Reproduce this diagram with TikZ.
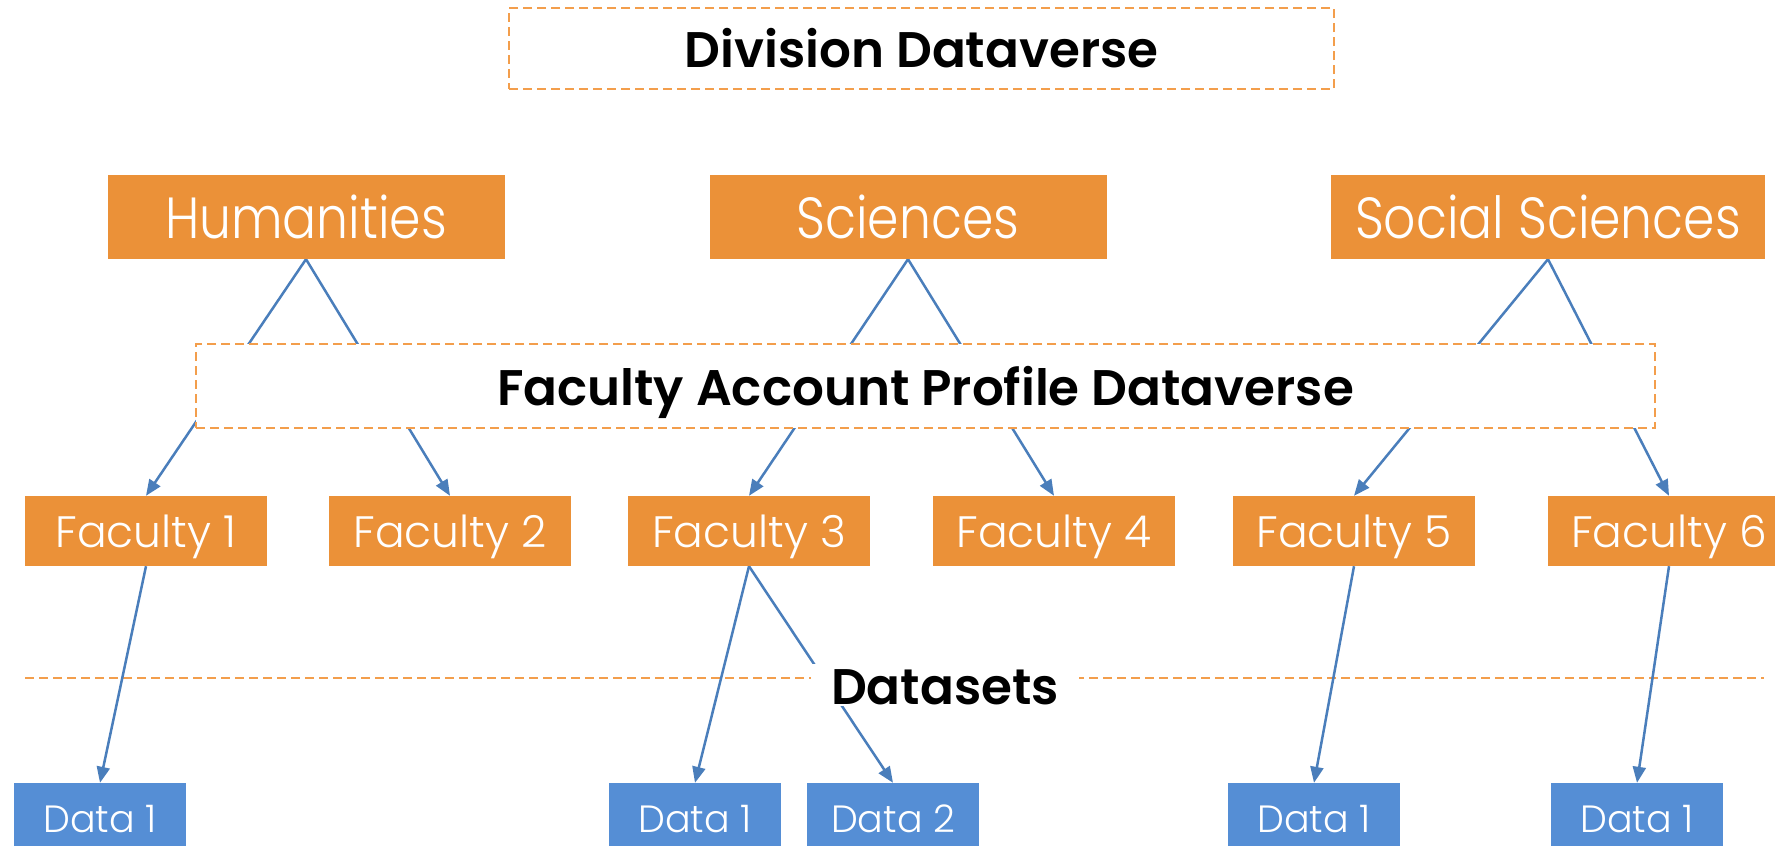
\documentclass[tikz,border=0pt]{standalone}
\usepackage{fontspec}
\setmainfont{Poppins}[UprightFont=* Light, BoldFont=* SemiBold]
\newfontfamily\unitfont{Poppins}[UprightFont=* Light, FakeStretch=0.87]
\usetikzlibrary{arrows.meta,backgrounds}
\definecolor{boxorange}{RGB}{235,145,56}
\definecolor{datablue}{RGB}{85,142,213}
\definecolor{lineblue}{RGB}{74,126,187}
\definecolor{dashorange}{RGB}{243,158,76}
\begin{document}
\begin{tikzpicture}[x=1pt,y=-1pt,
    dashbox/.style={draw=dashorange, line width=2pt, dash pattern=on 9pt off 5pt, fill=white, text=black},
    unit/.style={fill=boxorange, text=white, minimum width=397pt, minimum height=84pt, inner xsep=24pt,
        text height=43pt, text depth=0pt, font=\unitfont\fontsize{58}{60}\selectfont},
    faculty/.style={fill=boxorange, text=white, minimum width=242pt, minimum height=70pt,
        text height=33pt, text depth=0pt, font=\fontsize{44}{46}\selectfont},
    dataset/.style={fill=datablue, text=white, minimum width=172pt, minimum height=70pt,
        text height=28pt, text depth=0pt, font=\fontsize{38}{40}\selectfont},
    heading/.style={font=\bfseries\fontsize{50}{52}\selectfont, text height=38pt, text depth=0pt},
    connector/.style={draw=lineblue, line width=2.5pt},
    linkarrow/.style={connector, -{Triangle[length=16pt,width=13pt]}},
    dashline/.style={draw=dashorange, line width=2pt, dash pattern=on 9pt off 5pt}]
    \clip (0,0) rectangle (1775,846);
    % top level
    \node[dashbox, heading, minimum width=825pt, minimum height=81pt] (division) at (921.5,48.5) {Division Dataverse};
    % divisions
    \node[unit] (hum) at (306,217) {Humanities};
    \node[unit] (sci) at (908,217) {Sciences};
    \node[unit] (soc) at (1548,217) {Social Sciences};
    % faculties
    \foreach \i/\x in {1/146,2/450,3/749,4/1054,5/1354,6/1669}
        \node[faculty] (fac\i) at (\x,531) {Faculty \i};
    \node[dashbox, heading, minimum width=1459pt, minimum height=84pt] (profile) at (925.5,386) {Faculty Account Profile Dataverse};
    % datasets
    \node[dataset] (data1) at (100,818) {Data 1};
    \node[dataset] (data3a) at (695,818) {Data 1};
    \node[dataset] (data3b) at (893,818) {Data 2};
    \node[dataset] (data5) at (1314,818) {Data 1};
    \node[dataset] (data6) at (1637,818) {Data 1};
    \node[heading, fill=white, inner xsep=20pt, inner ysep=2pt, anchor=base] (datasets) at (945,704) {Datasets};
    \coordinate (dsleft) at (25,678);
    \coordinate (dsright) at (1764,678);
    \begin{scope}[on background layer]
        \draw[dashline] (dsleft) -- (dsright);
        \draw[linkarrow] (hum.south) -- (fac1.north);
        \draw[linkarrow] (hum.south) -- (fac2.north);
        \draw[linkarrow] (sci.south) -- (fac3.north);
        \draw[linkarrow] (sci.south) -- (fac4.north);
        \draw[linkarrow] (soc.south) -- (fac5.north);
        \draw[linkarrow] (soc.south) -- (fac6.north);
        \draw[linkarrow] (fac1.south) -- (data1.north);
        \draw[linkarrow] (fac3.south) -- (data3a.north);
        \draw[linkarrow] (fac3.south) -- (data3b.north);
        \draw[linkarrow] (fac5.south) -- (data5.north);
        \draw[linkarrow] (fac6.south) -- (data6.north);
    \end{scope}
\end{tikzpicture}
\end{document}
